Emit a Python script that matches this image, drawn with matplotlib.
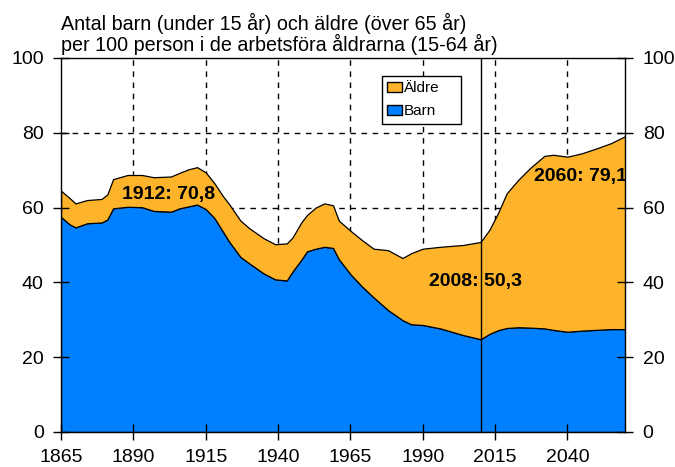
import matplotlib
matplotlib.use("Agg")
import matplotlib.pyplot as plt
import numpy as np
from matplotlib.patches import Patch

plt.rcParams['font.family'] = ['Liberation Sans', 'DejaVu Sans']

# Data (per 100 persons aged 15-64)
years = [1865, 1868, 1870, 1874, 1879, 1881, 1883, 1888, 1893, 1897, 1903, 1906,
         1909, 1912, 1915, 1918, 1921, 1923, 1927, 1930, 1935, 1939, 1943, 1945,
         1948, 1950, 1953, 1956, 1959, 1961, 1965, 1969, 1973, 1978, 1983, 1986,
         1990, 1996, 2004, 2010, 2013, 2016, 2019, 2023, 2027, 2032, 2035, 2040,
         2045, 2050, 2055, 2060]
total = [64.5, 62.5, 61.1, 62.0, 62.3, 63.5, 67.6, 68.7, 68.7, 68.1, 68.3, 69.3,
         70.2, 70.8, 69.4, 66.5, 63.0, 61.0, 56.5, 54.5, 51.8, 50.2, 50.4, 52.0,
         56.0, 58.0, 60.0, 61.1, 60.6, 56.5, 53.8, 51.3, 49.0, 48.6, 46.5, 47.8,
         49.0, 49.5, 50.0, 50.8, 54.0, 58.5, 63.8, 67.4, 70.5, 73.8, 74.1, 73.6,
         74.5, 75.8, 77.2, 79.1]
barn = [57.5, 55.5, 54.7, 55.8, 56.0, 56.8, 59.8, 60.2, 60.1, 59.1, 58.9, 59.8,
        60.3, 60.8, 59.6, 57.2, 53.5, 51.0, 46.8, 45.1, 42.4, 40.8, 40.5, 42.9,
        46.0, 48.3, 49.0, 49.5, 49.2, 46.2, 42.2, 38.9, 36.0, 32.6, 29.9, 28.8,
        28.6, 27.7, 25.9, 24.8, 26.2, 27.2, 27.8, 28.0, 27.9, 27.7, 27.3, 26.8,
        27.1, 27.3, 27.5, 27.5]
aldre = np.array(total) - np.array(barn)

xticks = [1865, 1890, 1915, 1940, 1965, 1990, 2015, 2040]
yticks = [0, 20, 40, 60, 80, 100]

orange = '#FDB42B'
blue = '#0080FF'

fig = plt.figure(figsize=(6.75, 4.67), dpi=100)
ax = fig.add_axes([0.0904, 0.075, 0.836, 0.801])

# grid under the areas
for x in xticks[1:]:
    ax.axvline(x, color='black', lw=1, ls=(0, (4, 4)), zorder=0)
for y in yticks[1:-1]:
    ax.axhline(y, color='black', lw=1, ls=(0, (4, 4)), zorder=0)

ax.stackplot(years, barn, aldre, colors=[blue, orange],
             edgecolor='black', linewidth=0.9, zorder=1)

# marker line for current year
ax.axvline(2010, color='black', lw=1, zorder=3)

ax.text(1902, 63.4, '1912: 70,8', fontsize=14, fontweight='bold',
        ha='center', va='center', zorder=4)
ax.text(2008.3, 40.2, '2008: 50,3', fontsize=14, fontweight='bold',
        ha='center', va='center', zorder=4)
ax.text(2028.5, 68.3, '2060: 79,1', fontsize=14, fontweight='bold',
        ha='left', va='center', zorder=4, clip_on=True)

ax.set_xlim(1865, 2060)
ax.set_ylim(0, 100)
ax.set_xticks(xticks)
ax.set_yticks(yticks)
ax.tick_params(axis='both', direction='inout', length=11, width=1,
               labelsize=14, pad=7, right=True, labelright=True)
for s in ax.spines.values():
    s.set_color('black')
    s.set_linewidth(1)

fig.text(0.0904, 0.936, 'Antal barn (under 15 år) och äldre (över 65 år)',
         fontsize=14.2, ha='left', va='baseline')
fig.text(0.0904, 0.891, 'per 100 person i de arbetsföra åldrarna (15-64 år)',
         fontsize=14.2, ha='left', va='baseline')

handles = [Patch(facecolor=orange, edgecolor='black', label='Äldre'),
           Patch(facecolor=blue, edgecolor='black', label='Barn')]
leg = ax.legend(handles=handles, loc='upper left', mode='expand',
                bbox_to_anchor=(0.569, 0.952, 0.140, 0.0), borderaxespad=0,
                fontsize=11, frameon=True, fancybox=False, framealpha=1,
                edgecolor='black', handlelength=0.95, handleheight=0.6,
                handletextpad=0.1, labelspacing=0.6, borderpad=0.35)
leg.get_frame().set_linewidth(1)
leg.set_zorder(5)

fig.savefig('out.png', dpi=100, facecolor='white')
